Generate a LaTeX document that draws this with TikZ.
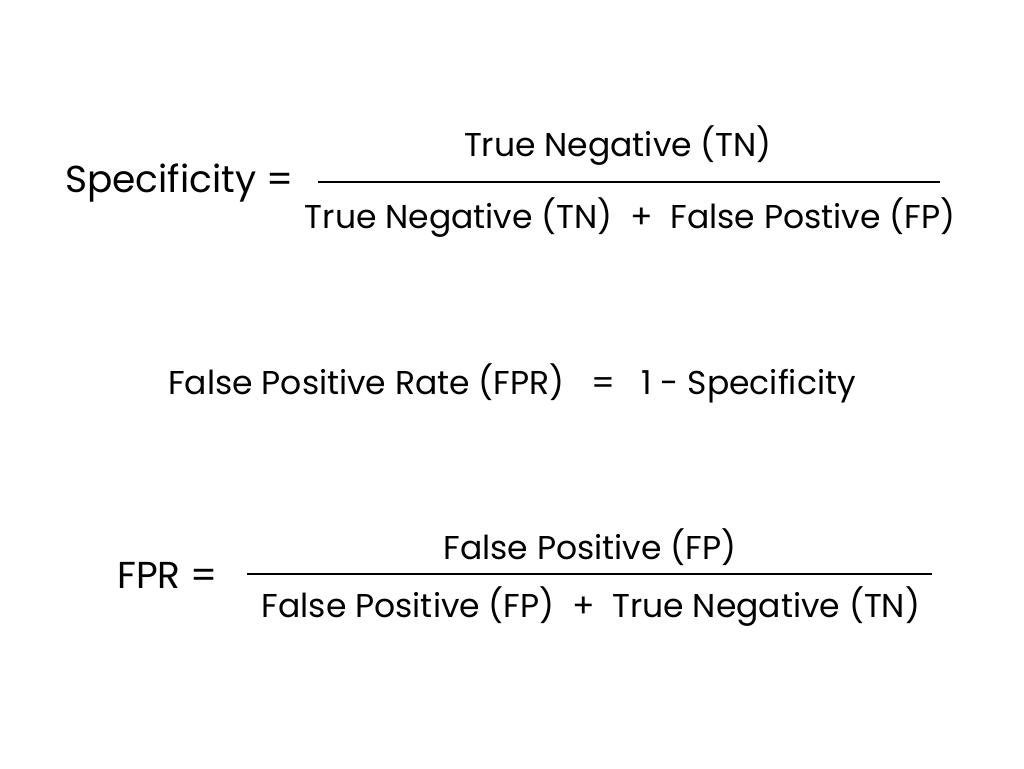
\documentclass[tikz,border=0pt]{standalone}
\usepackage{fontspec}
\setmainfont{Poppins}
\usetikzlibrary{positioning}
\tikzset{
    formula/.style={
        inner sep=0pt,
        font=\fontsize{33}{38}\selectfont,
    },
    lhs/.style={
        formula,
        anchor=west,
        font=\fontsize{37.5}{42}\selectfont,
    },
    bar/.style={
        draw=black,
        line width=1.2pt,
    },
}
\begin{document}
\begin{tikzpicture}[x=1pt,y=1pt]
    \useasboundingbox (0,0) rectangle (1024,768);

    % specificity
    \node[lhs] (spec) at (65,585) {Specificity =};
    \node[formula] (specnum) at (618,622) {True Negative (TN)};
    \node[formula] (specden) at (630,550) {True Negative (TN)\ \ +\ \ False Postive (FP)};
    \coordinate (specl) at (318,586);
    \coordinate (specr) at (940,586);
    \draw[bar] (specl) -- (specr);

    % rate
    \node[formula] (rate) at (512,385) {False Positive Rate (FPR)\ \ \ =\ \ \ 1 - Specificity};

    % fpr
    \node[lhs] (fpr) at (117,193) {FPR =};
    \node[formula] (fprnum) at (590,221) {False Positive (FP)};
    \node[formula] (fprden) at (591,161) {False Positive (FP)\ \ +\ \ True Negative (TN)};
    \coordinate (fprl) at (247,194);
    \coordinate (fprr) at (932,194);
    \draw[bar] (fprl) -- (fprr);
\end{tikzpicture}
\end{document}
